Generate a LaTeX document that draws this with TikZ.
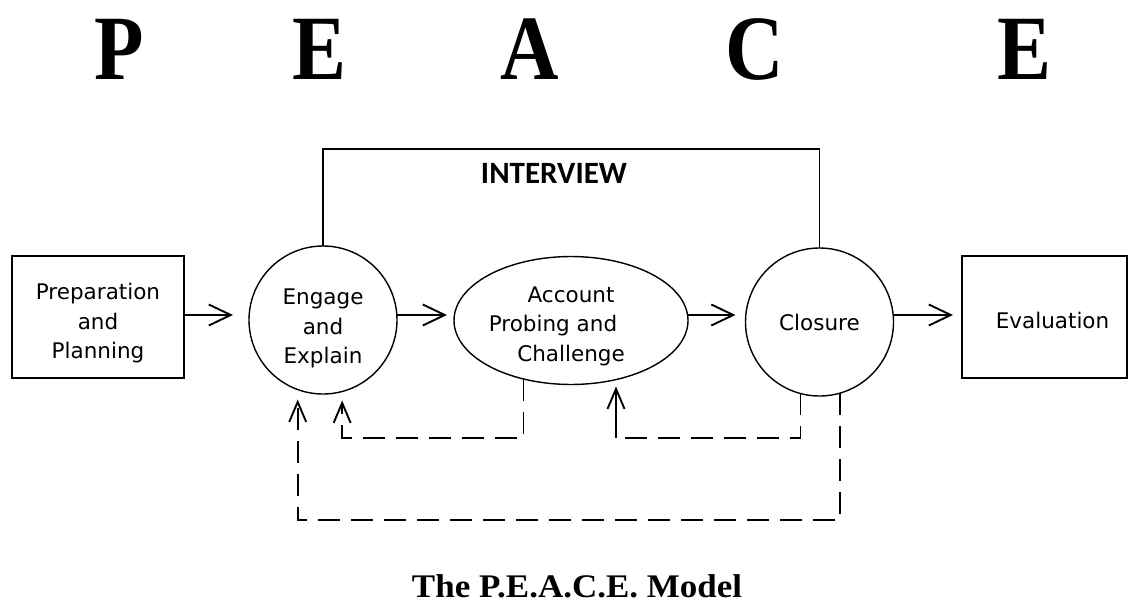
\documentclass[tikz,border=0pt]{standalone}
\usepackage{fontspec}
\usetikzlibrary{arrows.meta,shapes.geometric}
\newfontfamily\bodyfont{DejaVu Sans}
\newfontfamily\ivfont{Carlito}
\newfontfamily\capsfont{Liberation Serif}
% first-line strut: sets how far the text block sits below the shape centre
\newcommand\lift[1]{\rule{0pt}{#1pt}}

\begin{document}
\begin{tikzpicture}[x=1pt,y=-1pt,
  every node/.style={outer sep=0pt},
  outline/.style={draw=black, line width=1.4pt},
  txt/.style={font=\bodyfont\fontsize{21.5pt}{29.5pt}\selectfont, align=center, text=black},
  stagebox/.style={outline, txt, rectangle, minimum width=172pt, minimum height=122pt, inner sep=0pt},
  stagecircle/.style={outline, txt, circle, minimum size=148pt, inner sep=0pt},
  stageellipse/.style={outline, txt, ellipse, minimum width=234pt, minimum height=114pt, inner sep=0pt},
  flow/.style={line width=1.5pt, -{Straight Barb[length=22pt,width=21pt,line width=1.9pt]}},
  feedback/.style={line width=1.7pt, dash pattern=on 22pt off 11pt},
  backtip/.style={-{Straight Barb[length=20pt,width=17pt,line width=1.9pt]}},
  bigletter/.style={font=\capsfont\bfseries\fontsize{92pt}{92pt}\selectfont, anchor=base, xscale=0.88, inner sep=0pt},
]
% canvas
\fill[white] (0,0) rectangle (1129,602);
\useasboundingbox (0,0) rectangle (1129,602);

% the five initials
\node[bigletter] (lP)  at (119,79)  {P};
\node[bigletter] (lE1) at (319,79)  {E};
\node[bigletter] (lA)  at (530,79)  {A};
\node[bigletter] (lC)  at (755,79)  {C};
\node[bigletter] (lE2) at (1024,79) {E};

% stages
\node[stagebox]     (prep)    at (98,317)    {\lift{29}Preparation\\and\\Planning};
\node[stagecircle]  (engage)  at (323,320)   {\lift{33}Engage\\and\\Explain};
\node[stageellipse] (account) at (571,320.5) {\lift{27}Account\\Probing and\rule{36pt}{0pt}\\Challenge};
\node[stagecircle]  (closure) at (819.5,322) {Closure};
\node[stagebox, minimum width=165pt] (eval) at (1044.5,317) {\lift{24}\hspace*{16pt}Evaluation};

% interview bracket
\coordinate (itop) at (0,149);
\draw[line width=1.4pt] (engage.north) -- (engage.north |- itop) -| (closure.north);
\node[font=\ivfont\bfseries\fontsize{31pt}{31pt}\selectfont, anchor=base, inner sep=0pt] (interview) at (554,183) {INTERVIEW};

% main flow
\coordinate (mainline) at (0,315);
\draw[flow, shorten >=16pt] (prep.east |- mainline) -- (engage.west |- mainline);
\draw[flow, shorten >=7pt]  (engage.east |- mainline) -- (account.west |- mainline);
\draw[flow, shorten >=10pt] (account.east |- mainline) -- (closure.west |- mainline);
\draw[flow, shorten >=9pt]  (closure.east |- mainline) -- (eval.west |- mainline);

% feedback loops
\coordinate (loopin)  at (0,438);
\coordinate (loopout) at (0,520);
\coordinate (knee)    at (616,438);
\draw[feedback, backtip, shorten >=9pt]
  (account.231.6) -- (account.231.6 |- loopin) -| (engage.-75.1);
\draw[feedback] (closure.-105.7) |- (knee);
\draw[line width=2.6pt, backtip, shorten >=2pt] (knee) -- (knee |- account.south);
\draw[feedback, backtip, shorten >=10pt]
  (closure.-74.3) -- (closure.-74.3 |- loopout) -| (engage.250.2);

% caption
\node[font=\capsfont\bfseries\fontsize{33pt}{33pt}\selectfont, anchor=base, xscale=1.06, inner sep=0pt] (caption) at (577,597) {The P.E.A.C.E. Model};
\end{tikzpicture}
\end{document}
